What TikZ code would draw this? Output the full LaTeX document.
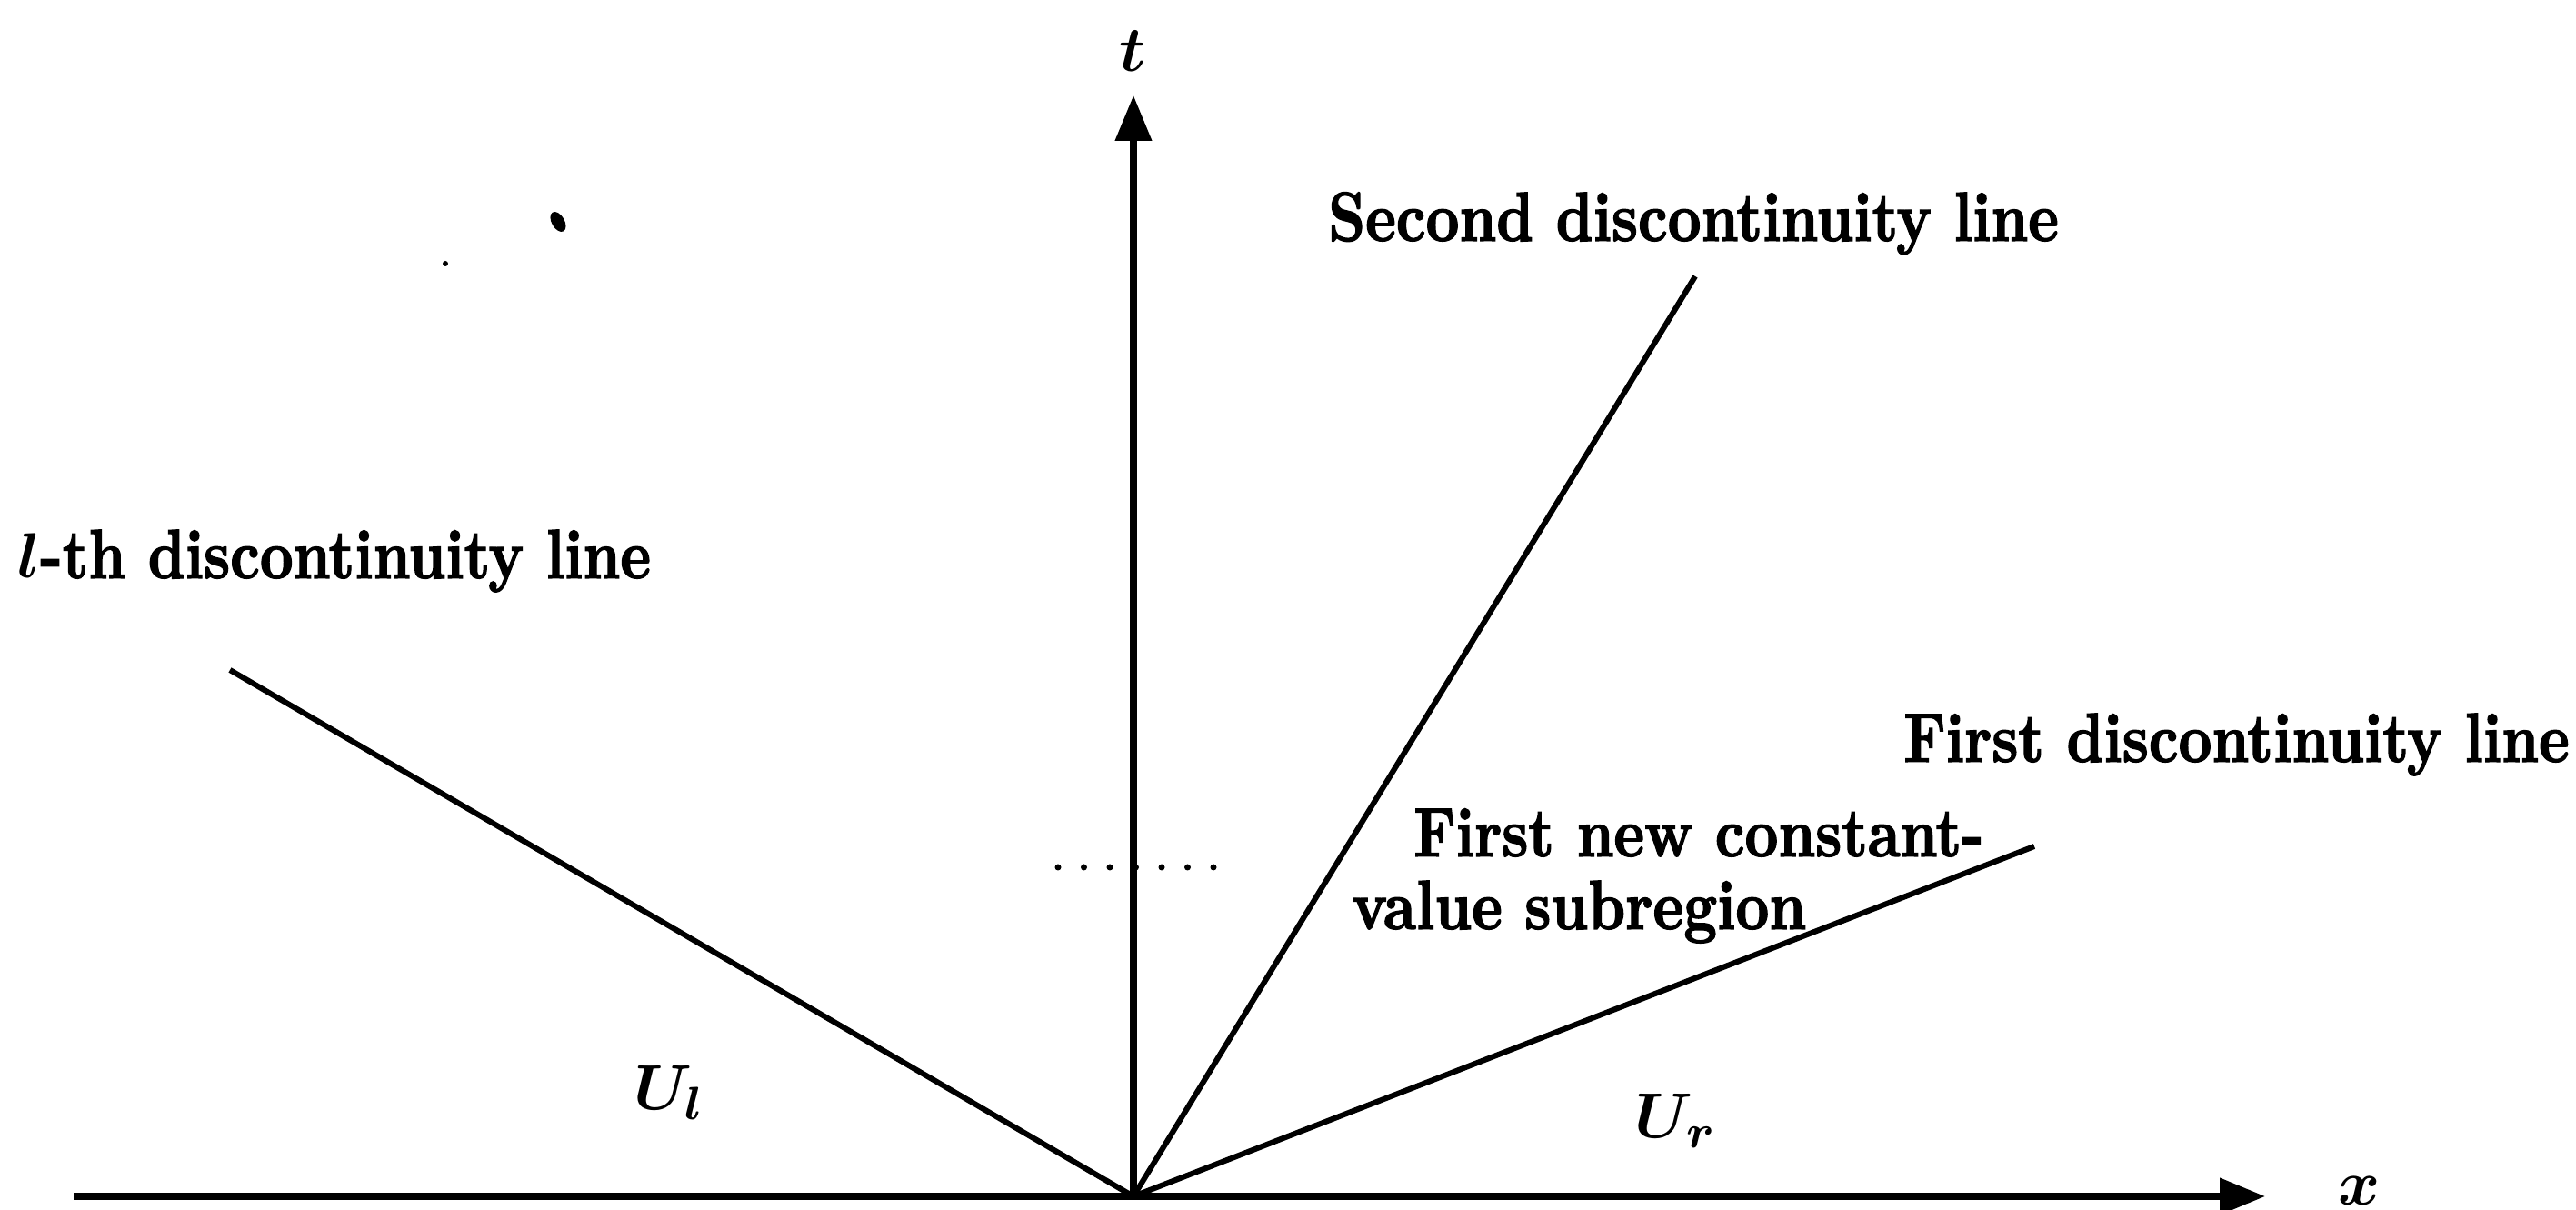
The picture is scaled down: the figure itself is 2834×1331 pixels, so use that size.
\documentclass[tikz,border=0pt]{standalone}
\usepackage{fontspec}
\usetikzlibrary{arrows.meta}
\newfontfamily\lblfont{lmroman10-bold}[Extension=.otf,FakeStretch=0.8333,FakeBold=1.6]
\begin{document}
\begin{tikzpicture}[x=0.15625pt,y=-0.15625pt,
  lbl/.style={inner sep=0pt,anchor=base west,font=\fontsize{12}{14}\selectfont\lblfont\boldmath},
  mlbl/.style={inner sep=0pt,font=\fontsize{11}{13}\selectfont\boldmath},
  axis/.style={line width=1.1pt,-{Triangle[length=7.8pt,width=6.1pt]}},
  dline/.style={line width=0.95pt}]
\useasboundingbox (0,0) rectangle (2834,1331);
\coordinate (O) at (1247,1316);
\coordinate (xs) at (81,1316);
\coordinate (xe) at (2492,1316);
\coordinate (te) at (1247,105);
\coordinate (L) at (253,737);
\coordinate (S) at (1865,304);
\coordinate (F) at (2238,931);
\draw[axis] (xs) -- (xe);
\draw[axis] (O) -- (te);
\draw[dline] (O) -- (L);
\draw[dline] (O) -- (S);
\draw[dline] (O) -- (F);
\node[mlbl] (tl) at (1246,56) {$t$};
\node[mlbl] (xl) at (2596,1310) {$x$};
\node[lbl] (ll) at (18,636) {{\fontsize{11}{13}\selectfont$l$}-th discontinuity line};
\node[lbl] (sl) at (1460,265) {Second discontinuity line};
\node[lbl] (fl) at (2093,838) {First discontinuity line};
\node[lbl] (n1) at (1554,942) {First new constant-};
\node[lbl] (n2) at (1486,1022) {value subregion};
\node[mlbl] (ul) at (737,1202) {$U_l$};
\node[mlbl] (ur) at (1844,1233) {$U_r$};
\foreach \i in {0,...,6} \fill (1164+\i*28.5,954) circle (3.5);
\fill[rotate around={-60:(614,244)}] (614,244) ellipse (12 and 7);
\fill (490,290) circle (3);
\end{tikzpicture}
\end{document}
